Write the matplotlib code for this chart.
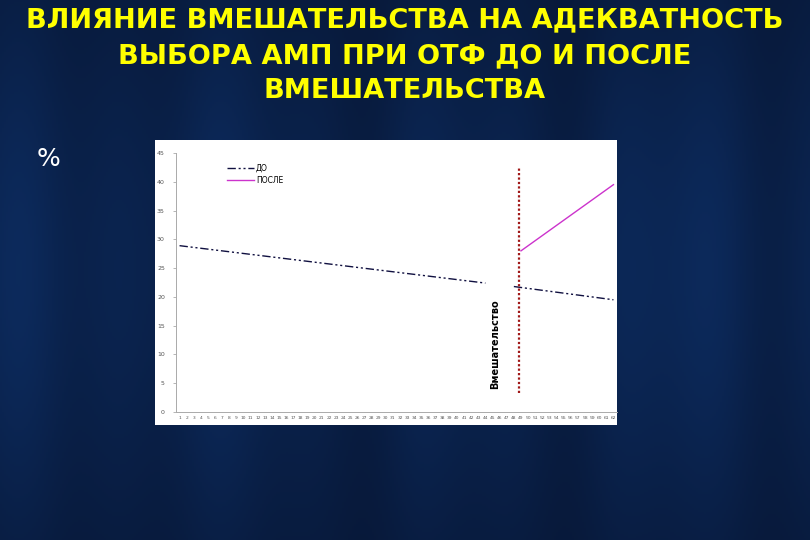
import numpy as np
import matplotlib
matplotlib.use("Agg")
import matplotlib.pyplot as plt
from matplotlib.patches import Rectangle

# ---- data ----
categories = list(range(1, 63))                 # x-axis tick labels 1..62
do_x1 = [1, 44]
do_y1 = [28.9, 22.4]
do_x2 = [48, 62]
do_y2 = [21.8, 19.5]
posle_x = [49, 62]
posle_y = [28.0, 39.5]
intervention_x = 48.7
y_ticks = [0, 5, 10, 15, 20, 25, 30, 35, 40, 45]

title = "ВЛИЯНИЕ ВМЕШАТЕЛЬСТВА НА АДЕКВАТНОСТЬ\nВЫБОРА АМП ПРИ ОТФ ДО И ПОСЛЕ\nВМЕШАТЕЛЬСТВА"

fig = plt.figure(figsize=(8.1, 5.4), dpi=100)

# background: navy gradient with soft vertical streaks
bg = fig.add_axes([0, 0, 1, 1])
bg.axis("off")
h, w = 270, 405
yy = np.linspace(0, 1, h)[:, None]
xx = np.linspace(0, 1, w)[None, :]
streak = 0.65 + 0.18 * np.sin(xx * 23 + 1.3) + 0.1 * np.sin(xx * 51 + 0.4) + 0.07 * np.sin(xx * 9)
vert = np.exp(-((yy - 0.5) / 0.55) ** 2)
base = np.array([0.02, 0.06, 0.15])
light = np.array([0.05, 0.17, 0.37])
t = np.clip(0.25 + 0.75 * vert * streak, 0, 1)[..., None]
img = base * (1 - t) + light * t
bg.imshow(img, aspect="auto", extent=[0, 1, 0, 1], origin="upper")
bg.set_xlim(0, 1)
bg.set_ylim(0, 1)

# title
fig.text(0.5, 0.986, title, ha="center", va="top", color="#ffff00",
         fontsize=19.6, fontweight="bold", family="DejaVu Sans",
         linespacing=1.47)
fig.text(0.06, 0.705, "%", color="white", fontsize=18, ha="center", va="center")

# white chart area
fig.patches.append(Rectangle((155 / 810, 1 - 425 / 540), 462 / 810, 285 / 540,
                             transform=fig.transFigure, facecolor="white",
                             edgecolor="none", zorder=1))

ax = fig.add_axes([176 / 810, 1 - 412 / 540, 441 / 810, 259 / 540], zorder=2)
ax.patch.set_alpha(0)

ax.plot(do_x1, do_y1, color="#101040", lw=1.0, dashes=(6, 2, 1.5, 2, 1.5, 2), label="ДО")
ax.plot(do_x2, do_y2, color="#101040", lw=1.0, dashes=(6, 2, 1.5, 2, 1.5, 2))
ax.plot(posle_x, posle_y, color="#cc33cc", lw=1.0, label="ПОСЛЕ")
ax.axvline(intervention_x, ymin=0.075, ymax=0.945, color="#a01818", lw=1.6,
           linestyle=(0, (1, 1)))
ax.text(45.3, 11.8, "Вмешательство", rotation=90, ha="center", va="center",
        fontsize=7, fontweight="bold", color="black", family="DejaVu Sans Condensed")

ax.set_xlim(0.5, 62.5)
ax.set_ylim(0, 45)
ax.set_xticks(categories)
ax.set_xticklabels([str(c) for c in categories], fontsize=3.2, color="#555555")
ax.set_yticks(y_ticks)
ax.set_yticklabels([str(v) for v in y_ticks], fontsize=4.5, color="#555555")
ax.tick_params(axis="x", length=0, pad=3)
ax.tick_params(axis="y", length=2, width=0.5, color="#999999", pad=6)
for s in ["top", "right"]:
    ax.spines[s].set_visible(False)
for s in ["left", "bottom"]:
    ax.spines[s].set_color("#aaaaaa")
    ax.spines[s].set_linewidth(0.7)

leg = ax.legend(loc="upper left", bbox_to_anchor=(0.1, 0.985), frameon=False,
                fontsize=5.5, handlelength=3.5, handletextpad=0.3,
                labelspacing=0.4)

fig.savefig("out.png", dpi=100)
